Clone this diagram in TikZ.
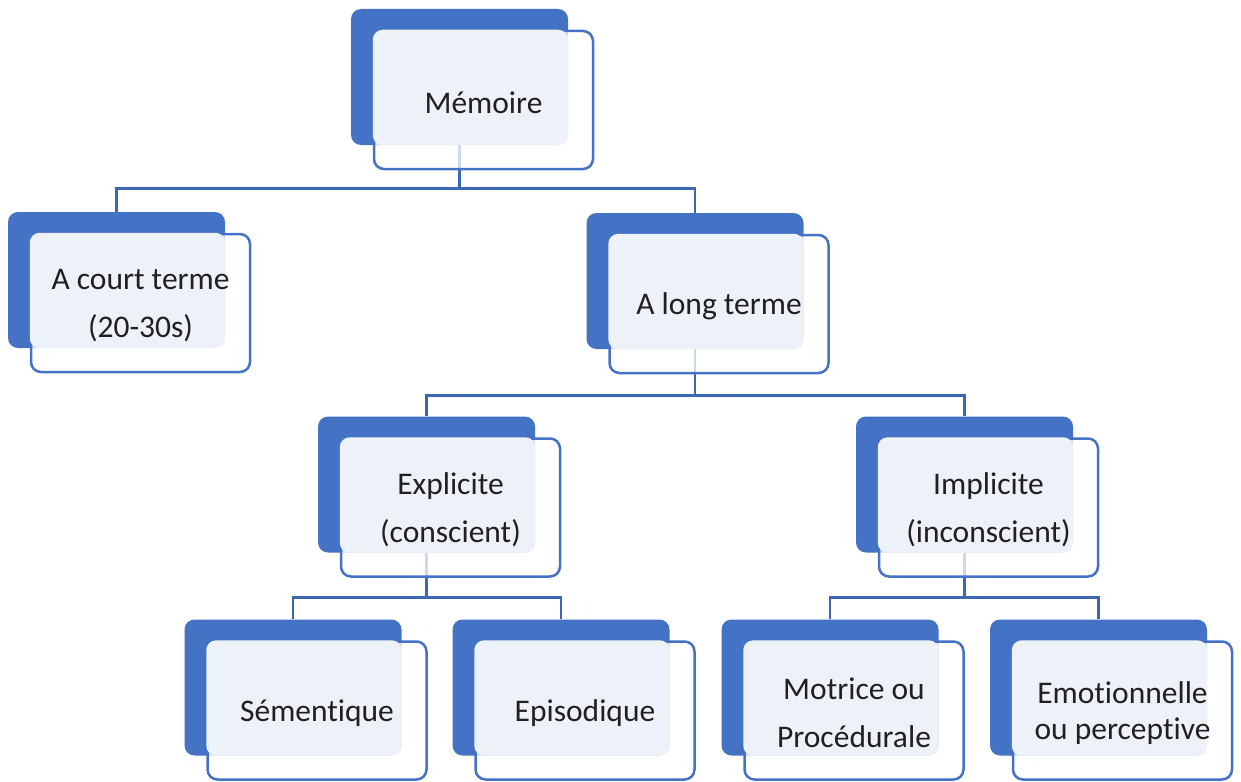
\documentclass[tikz,border=0pt]{standalone}
\usepackage{fontspec}
\setmainfont{Carlito}[Ligatures=NoCommon]
\usepackage{tikz}
\usetikzlibrary{positioning,calc,backgrounds}
\definecolor{cardblue}{HTML}{4472C4}
\definecolor{cardtint}{HTML}{EDF2F9}
\definecolor{cardink}{HTML}{231F20}

% one card: dark back, white framed front, tinted overlap, text
\newcommand{\memcard}[5][]{%
  \node[backcard] (#2-b) at (#3,#4) {};
  \node[frontcard] (#2-f) at ($(#2-b)+(24,23)$) {};
  \fill[cardtint, rounded corners=10pt] (#2-f.north west) rectangle (#2-b.south east);
  \node[cardtext, #1] (#2) at ($(#2-f)+(0,2.5)$) {#5};
}

\begin{document}
\begin{tikzpicture}[x=1pt, y=-1pt,
  backcard/.style={fill=cardblue, rounded corners=10pt, minimum width=217pt, minimum height=136pt, inner sep=0pt},
  frontcard/.style={draw=cardblue, line width=2.5pt, fill=white, fill opacity=0.75, rounded corners=10pt, minimum width=219pt, minimum height=138pt, inner sep=0pt},
  cardtext/.style={text=cardink, align=center, inner sep=0pt, font=\fontsize{31.5}{48}\selectfont},
  link/.style={draw=cardblue!90!black, line width=2.7pt}]
  \useasboundingbox (0,0) rectangle (1241,781);

  \memcard{mem}{459.5}{77}{Mémoire}
  \memcard{short}{116.5}{280}{A court terme\\(20-30s)}
  \memcard{long}{695}{281}{A long terme}
  \memcard{expl}{426.5}{484.5}{Explicite\\(conscient)}
  \memcard{impl}{964.5}{484.5}{Implicite\\(inconscient)}
  \memcard{sem}{293}{687.5}{Sémentique}
  \memcard{epi}{561}{687.5}{Episodique}
  \memcard{mot}{830}{687.5}{Motrice ou\\Procédurale}
  \memcard[font=\fontsize{31.5}{36}\selectfont]{emo}{1098.5}{687.5}{Emotionnelle\\ou perceptive}

  \begin{scope}[on background layer]
    \draw[link] (mem-b.south) -- ++(0,43) -| (short-b.north);
    \draw[link] (mem-b.south) -- ++(0,43) -| (long-b.north);
    \draw[link] (long-b.south) -- ++(0,46) -| (expl-b.north);
    \draw[link] (long-b.south) -- ++(0,46) -| (impl-b.north);
    \draw[link] (expl-b.south) -- ++(0,45) -| (sem-b.north);
    \draw[link] (expl-b.south) -- ++(0,45) -| (epi-b.north);
    \draw[link] (impl-b.south) -- ++(0,45) -| (mot-b.north);
    \draw[link] (impl-b.south) -- ++(0,45) -| (emo-b.north);
  \end{scope}
\end{tikzpicture}
\end{document}
